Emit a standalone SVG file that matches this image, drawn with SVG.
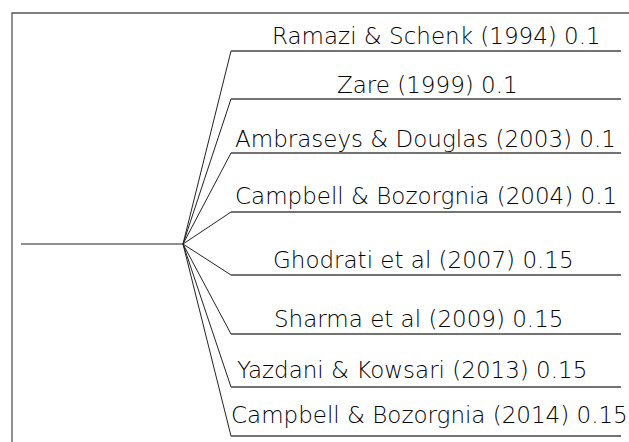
<svg xmlns="http://www.w3.org/2000/svg" width="629" height="442" viewBox="0 0 629 442">
<style>
.frame{fill:none;stroke:#555;stroke-width:1.3}
.branch{stroke:#222;stroke-width:1;fill:none}
.leaf{stroke:#444;stroke-width:1.3}
.lbl{font-family:"DejaVu Sans",Verdana,sans-serif;font-size:23px;font-weight:200;fill:#000}
</style>
<rect width="629" height="442" fill="#fff"/>
<path class="frame" d="M12,442 V13 H629"/>
<g id="root"><line class="branch" x1="21" y1="244" x2="183" y2="244"/></g>
<g id="connectors">
<line class="branch" x1="183" y1="244" x2="231" y2="51"/>
<line class="branch" x1="183" y1="244" x2="231" y2="99"/>
<line class="branch" x1="183" y1="244" x2="231" y2="153"/>
<line class="branch" x1="183" y1="244" x2="231" y2="212"/>
<line class="branch" x1="183" y1="244" x2="231" y2="275"/>
<line class="branch" x1="183" y1="244" x2="231" y2="334"/>
<line class="branch" x1="183" y1="244" x2="231" y2="387"/>
<line class="branch" x1="183" y1="244" x2="231" y2="436"/>
</g>
<g id="n1"><line class="leaf" x1="231" y1="51" x2="621" y2="51"/><text class="lbl" x="272" y="44">Ramazi &amp; Schenk (1994) 0.1</text></g>
<g id="n2"><line class="leaf" x1="231" y1="99" x2="621" y2="99"/><text class="lbl" x="337" y="93">Zare (1999) 0.1</text></g>
<g id="n3"><line class="leaf" x1="231" y1="153" x2="621" y2="153"/><text class="lbl" x="235" y="147">Ambraseys &amp; Douglas (2003) 0.1</text></g>
<g id="n4"><line class="leaf" x1="231" y1="212" x2="621" y2="212"/><text class="lbl" x="235" y="204">Campbell &amp; Bozorgnia (2004) 0.1</text></g>
<g id="n5"><line class="leaf" x1="231" y1="275" x2="621" y2="275"/><text class="lbl" x="273" y="268">Ghodrati et al (2007) 0.15</text></g>
<g id="n6"><line class="leaf" x1="231" y1="334" x2="621" y2="334"/><text class="lbl" x="274" y="327">Sharma et al (2009) 0.15</text></g>
<g id="n7"><line class="leaf" x1="231" y1="387" x2="621" y2="387"/><text class="lbl" x="237" y="378">Yazdani &amp; Kowsari (2013) 0.15</text></g>
<g id="n8"><line class="leaf" x1="231" y1="436" x2="621" y2="436"/><text class="lbl" x="231" y="423">Campbell &amp; Bozorgnia (2014) 0.15</text></g>
</svg>
